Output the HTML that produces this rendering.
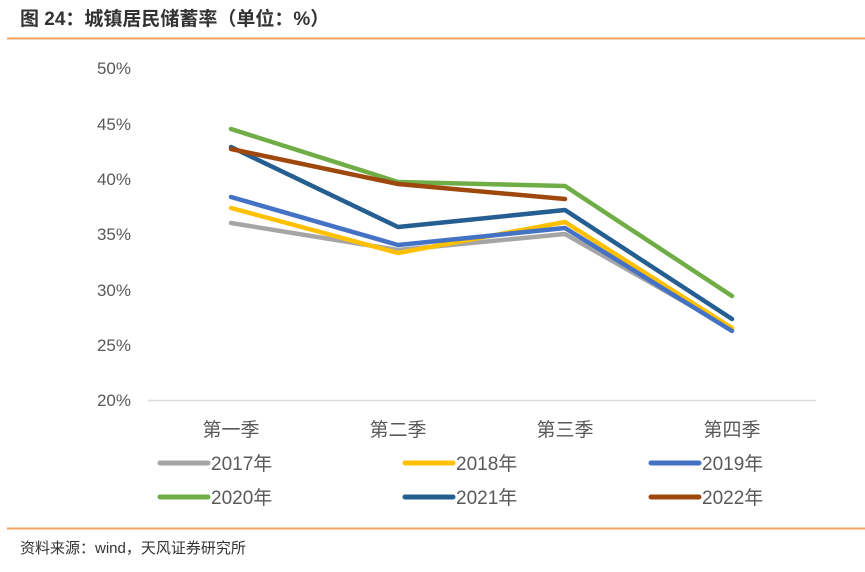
<!DOCTYPE html>
<html><head><meta charset="utf-8"><style>
body{margin:0;background:#fff;width:865px;height:567px;overflow:hidden;font-family:"Liberation Sans","Noto Sans CJK SC",sans-serif;}
</style></head><body>
<svg width="865" height="567" xmlns="http://www.w3.org/2000/svg" font-family="Liberation Sans, Noto Sans CJK SC, sans-serif">
<text x="20" y="25" font-size="19" font-weight="bold" fill="#333">图 24：城镇居民储蓄率（单位：%）</text>
<line x1="7" y1="38.5" x2="865" y2="38.5" stroke="#F4A460" stroke-width="2"/>
<g fill="#595959" font-size="17" text-anchor="end">
<text x="131" y="74">50%</text><text x="131" y="130">45%</text><text x="131" y="185">40%</text>
<text x="131" y="240">35%</text><text x="131" y="296">30%</text><text x="131" y="351">25%</text><text x="131" y="406">20%</text>
</g>
<line x1="148" y1="400.5" x2="816" y2="400.5" stroke="#D9D9D9" stroke-width="1.5"/>
<g fill="#595959" font-size="19" text-anchor="middle">
<text x="231" y="436">第一季</text><text x="398" y="436">第二季</text><text x="565" y="436">第三季</text><text x="732" y="436">第四季</text>
</g>
<g fill="none" stroke-width="4.5" stroke-linejoin="round" stroke-linecap="round">
<polyline stroke="#A5A5A5" points="231,223 398,250 565,234 732,329"/>
<polyline stroke="#FFC000" points="231,208 398,253 565,222 732,328"/>
<polyline stroke="#4472C4" points="231,197 398,245 565,228 732,331"/>
<polyline stroke="#70AD47" points="231,129 398,182 565,186 732,296"/>
<polyline stroke="#255E91" points="231,147 398,227 565,210 732,319"/>
<polyline stroke="#9E480E" points="231,149 398,184 565,199"/>
</g>
<g stroke-width="5" stroke-linecap="round">
<line x1="160" y1="463" x2="208" y2="463" stroke="#A5A5A5"/>
<line x1="405" y1="463" x2="453" y2="463" stroke="#FFC000"/>
<line x1="651" y1="463" x2="699" y2="463" stroke="#4472C4"/>
<line x1="160" y1="497" x2="208" y2="497" stroke="#70AD47"/>
<line x1="405" y1="497" x2="453" y2="497" stroke="#255E91"/>
<line x1="651" y1="497" x2="699" y2="497" stroke="#9E480E"/>
</g>
<g fill="#595959" font-size="19">
<text x="211" y="470">2017年</text><text x="456" y="470">2018年</text><text x="702" y="470">2019年</text>
<text x="211" y="504">2020年</text><text x="456" y="504">2021年</text><text x="702" y="504">2022年</text>
</g>
<line x1="7" y1="528.5" x2="865" y2="528.5" stroke="#F4A460" stroke-width="2"/>
<text x="20" y="553" font-size="15" fill="#333">资料来源：wind，天风证券研究所</text>
</svg>
</body></html>
